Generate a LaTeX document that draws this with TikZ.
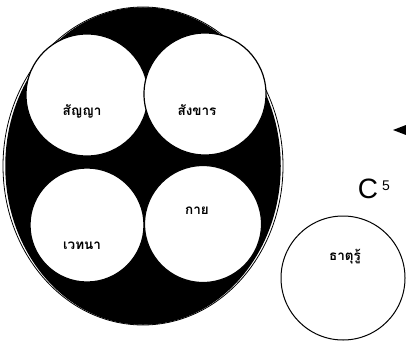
\documentclass[tikz,border=0pt]{standalone}
\usepackage{fontspec}
\usetikzlibrary{shapes.geometric}
\newfontfamily\thaifont[Script=Thai]{Loma}
\setsansfont{Liberation Sans}
\begin{document}
\begin{tikzpicture}[x=1pt,y=-1pt,
  part/.style={circle,draw=black,fill=white,line width=1.2pt,inner sep=0pt},
  lab/.style={font=\thaifont\bfseries\fontsize{13.5}{15}\selectfont,inner sep=0pt}]
\useasboundingbox (0,0) rectangle (406,345);
\node[ellipse,draw=black,fill=black,line width=1.5pt,minimum width=274pt,minimum height=316pt,inner sep=0pt] (body) at (143,166) {};
\draw[line width=0.8pt] (143,166) ellipse [x radius=140, y radius=159];
\node[part,minimum size=122pt] (sanya) at (87,95) {};
\node[part,minimum size=122pt] (sankhan) at (205,94) {};
\node[part,minimum size=114pt] (wethana) at (87,225) {};
\node[part,minimum size=117pt] (kai) at (203,224) {};
\node[lab] at (82,111) {สัญญา};
\node[lab] at (197,110) {สังขาร};
\node[lab] at (197,211) {กาย};
\node[lab] at (82,246) {เวทนา};
\node[circle,draw=black,line width=1pt,minimum size=124pt,inner sep=0pt] (thatu) at (343,278) {};
\node[lab] at (345,257) {ธาตุรู้};
\node[font=\sffamily\fontsize{28}{30}\selectfont,inner sep=0pt] (c5) at (368,189) {C};
\node[font=\sffamily\fontsize{14}{15}\selectfont,inner sep=0pt] (sup5) at (386,186) {5};
\fill (393,130) -- (406,125) -- (406,135) -- cycle;
\end{tikzpicture}
\end{document}
